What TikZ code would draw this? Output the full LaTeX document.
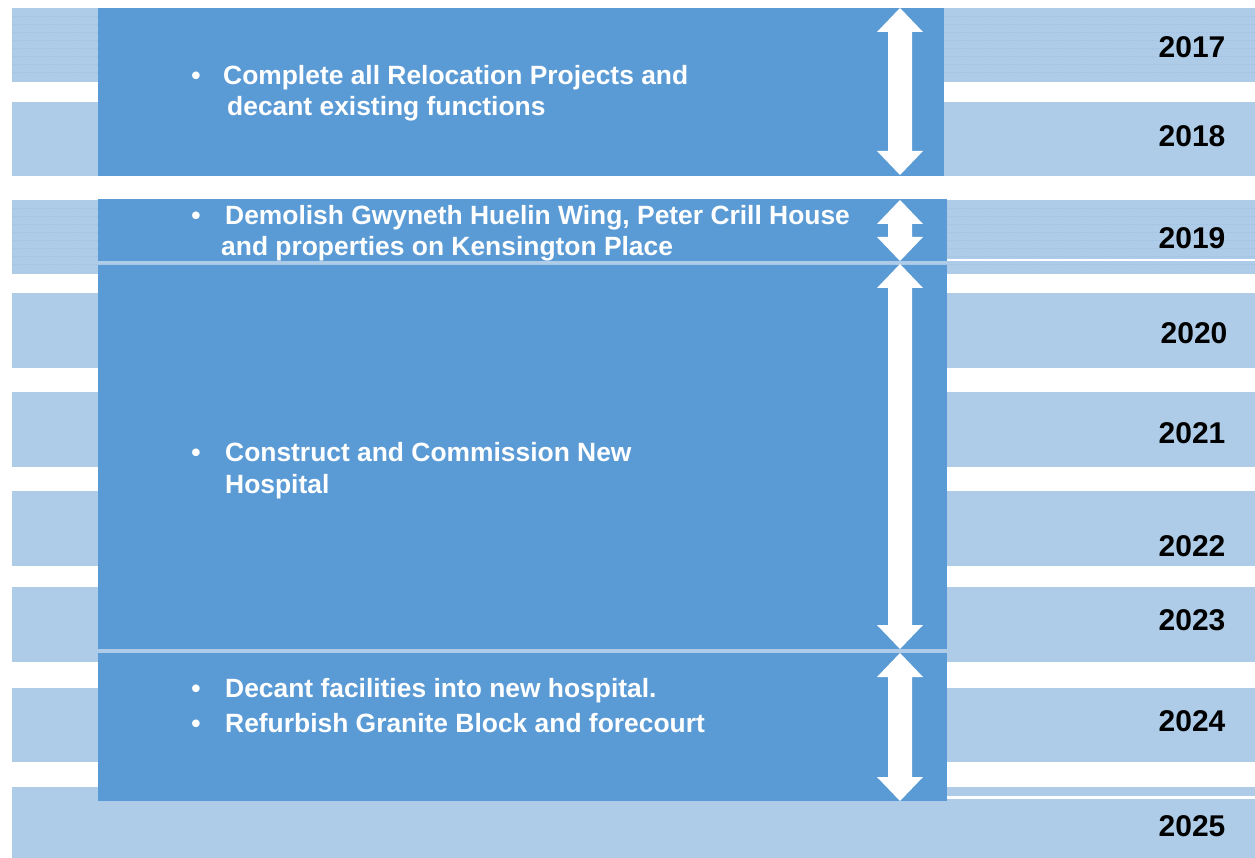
\documentclass[tikz,border=0pt]{standalone}
\usepackage{fontspec}
\setmainfont{Liberation Sans}
\definecolor{stripeblue}{HTML}{AECCE8}
\definecolor{stripeline}{HTML}{A2C3E3}
\definecolor{boxblue}{HTML}{5B9BD5}
\tikzset{
  stripe/.style={fill=stripeblue},
  boxfill/.style={fill=boxblue},
  arrowfill/.style={fill=white},
  itemtext/.style={inner sep=0pt, anchor=base west, text=white,
    font=\bfseries\fontsize{26.4}{31.6}\selectfont},
  bulletmark/.style={inner sep=0pt, anchor=base, text=white,
    font=\bfseries\fontsize{26.4}{31.6}\selectfont},
  yearlabel/.style={inner sep=0pt, anchor=center, text=black,
    font=\bfseries\fontsize{30}{36}\selectfont}
}
\newcommand\dblarr[3]{%
  \fill[arrowfill] (#1,#2) -- (#1+23,#2+24) -- (#1+12,#2+24) -- (#1+12,#3-24)
    -- (#1+23,#3-24) -- (#1,#3) -- (#1-23,#3-24) -- (#1-12,#3-24)
    -- (#1-12,#2+24) -- (#1-23,#2+24) -- cycle;}
\begin{document}
\begin{tikzpicture}[x=1pt,y=-1pt]
\useasboundingbox (0,0) rectangle (1255,858);
% background stripes
\foreach \a/\b in {8/82,102/176,200/274,293/368,392/467,491/566,587/662,688/762,787/858}{
  \fill[stripe] (12,\a) rectangle (1255,\b);
}
% faint horizontal lines in the 2017 and 2019 stripes
\foreach \a/\b in {8/82,200/274}{
  \foreach \k in {1,...,8}{
    \draw[stripeline, line width=0.6pt, dash pattern=on 2pt off 1pt] (12,\a+\k*8) -- (1255,\a+\k*8);
  }
}
% thin white lines on the right
\fill[white] (947,259.5) rectangle (1255,261.5);
\fill[white] (947,796) rectangle (1255,798.5);
% boxes
\fill[boxfill] (98,8) rectangle (944,176);
\fill[boxfill] (98,199) rectangle (947,261);
\fill[boxfill] (98,265) rectangle (947,649);
\fill[boxfill] (98,653) rectangle (947,801);
% double arrows
\dblarr{900}{8}{175}
\dblarr{900}{200}{261}
\dblarr{900}{264}{649}
\dblarr{900}{653}{801}
% box texts
\node[bulletmark] (b1) at (196,85) {•};
\node[itemtext] (t1a) at (223,85) {Complete all Relocation Projects and};
\node[itemtext] (t1b) at (227,116) {decant existing functions};
\node[bulletmark] (b2) at (196,225) {•};
\node[itemtext] (t2a) at (225,225) {Demolish Gwyneth Huelin Wing, Peter Crill House};
\node[itemtext] (t2b) at (221,256) {and properties on Kensington Place};
\node[bulletmark] (b3) at (196,461) {•};
\node[itemtext] (t3a) at (225,461) {Construct and Commission New};
\node[itemtext] (t3b) at (225,493) {Hospital};
\node[bulletmark] (b4) at (196,697) {•};
\node[itemtext] (t4) at (225,697) {Decant facilities into new hospital.};
\node[bulletmark] (b5) at (196,732) {•};
\node[itemtext] (t5) at (225,732) {Refurbish Granite Block and forecourt};
% years
\node[yearlabel] (y2017) at (1192,47) {2017};
\node[yearlabel] (y2018) at (1192,136) {2018};
\node[yearlabel] (y2019) at (1192,238) {2019};
\node[yearlabel] (y2020) at (1194,333) {2020};
\node[yearlabel] (y2021) at (1192,433) {2021};
\node[yearlabel] (y2022) at (1192,546) {2022};
\node[yearlabel] (y2023) at (1192,620) {2023};
\node[yearlabel] (y2024) at (1192,721) {2024};
\node[yearlabel] (y2025) at (1192,826) {2025};
\end{tikzpicture}
\end{document}
